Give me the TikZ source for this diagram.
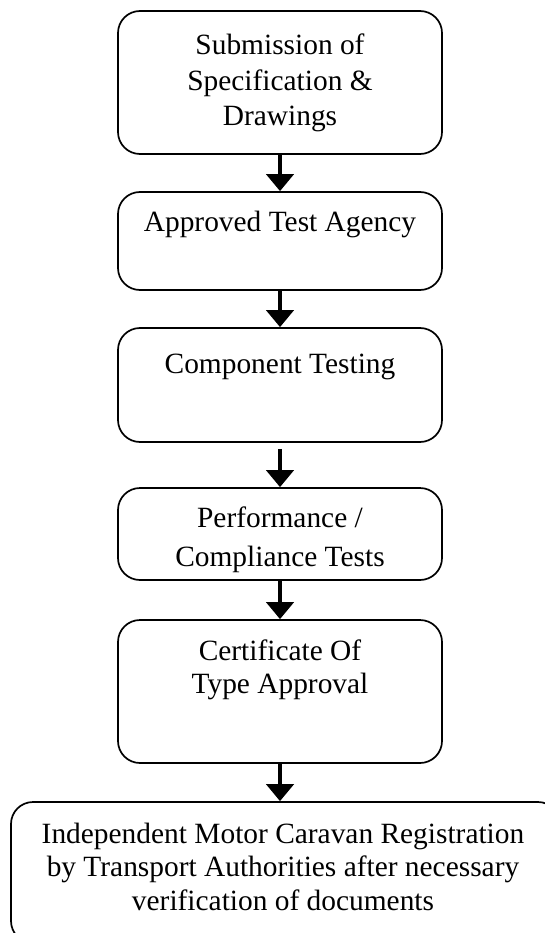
\documentclass[tikz,border=0pt]{standalone}
\usepackage{fontspec}
\setmainfont{Liberation Serif}
\usetikzlibrary{arrows.meta}
\tikzset{
  box/.style={draw=black, line width=1.7pt, rounded corners=22pt, minimum width=324pt, inner sep=0pt},
  lbl/.style={anchor=base, align=center, inner sep=0pt},
  flow/.style={line width=4.5pt, -{Triangle[length=17pt,width=27pt]}},
}
\begin{document}
\begin{tikzpicture}[x=1pt,y=-1pt]
\useasboundingbox (0,0) rectangle (545,933);
\clip (0,0) rectangle (545,933);
\fill[white] (0,0) rectangle (545,933);
% boxes
\node[box, minimum height=143pt] (b1) at (280,82.5) {};
\node[box, minimum height=98pt]  (b2) at (280,241) {};
\node[box, minimum height=114pt] (b3) at (280,385) {};
\node[box, minimum height=92pt]  (b4) at (280,534) {};
\node[box, minimum height=143pt] (b5) at (280,691.5) {};
\node[box, minimum height=141pt, minimum width=549pt] (b6) at (285.5,872.5) {};
% texts (base anchor = baseline of the last line)
\node[lbl, font=\fontsize{29.4}{35.5}\selectfont] (t1) at (280,126) {Submission of\\Specification \&\\Drawings};
\node[lbl, font=\fontsize{29.4}{35}\selectfont] (t2) at (280,232) {Approved Test Agency};
\node[lbl, font=\fontsize{29.4}{35}\selectfont] (t3) at (280,373) {Component Testing};
\node[lbl, font=\fontsize{29.4}{39}\selectfont] (t4) at (280,566) {Performance /\\Compliance Tests};
\node[lbl, font=\fontsize{29.4}{33}\selectfont] (t5) at (280,693) {Certificate Of\\Type Approval};
\node[lbl, font=\fontsize{29.4}{33.5}\selectfont] (t6) at (283,910) {Independent Motor Caravan Registration\\by Transport Authorities after necessary\\verification of documents};
% arrows
\draw[flow] (b1.south) -- (b2.north);
\draw[flow] (b2.south) -- (b3.north);
\draw[flow, shorten <=6pt] (b3.south) -- (b4.north);
\draw[flow] (b4.south) -- (b5.north);
\draw[flow] (b5.south) -- (b6.north -| b5.south);
\end{tikzpicture}
\end{document}
